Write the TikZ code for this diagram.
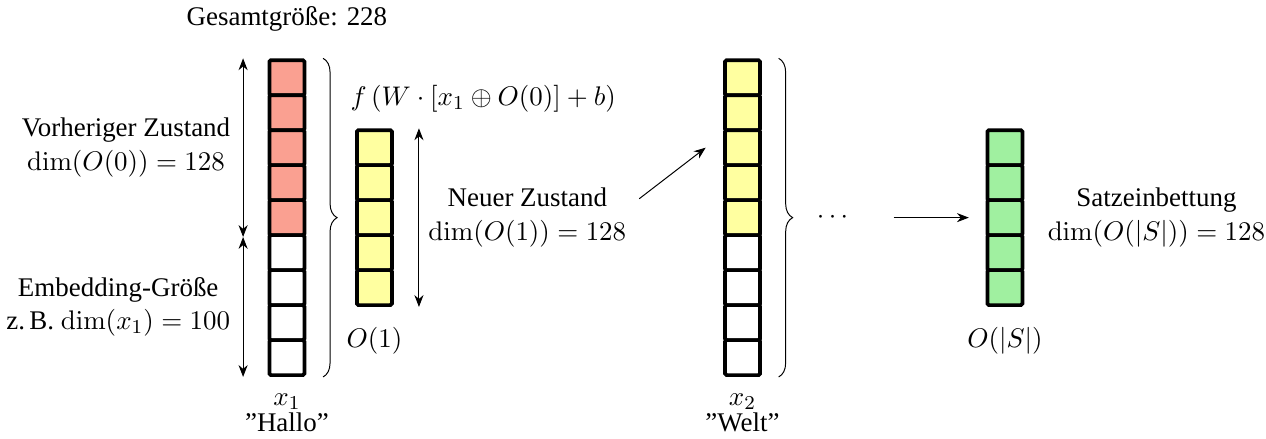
\documentclass[tikz,border=0pt,11pt]{standalone}
\usepackage{amsmath}
\usepackage[no-math]{fontspec}
\setmainfont{Liberation Serif}
\usetikzlibrary{positioning,decorations.pathreplacing,arrows.meta}

\definecolor{prevred}{RGB}{250,160,145}
\definecolor{stateyellow}{RGB}{255,255,160}
\definecolor{sentgreen}{RGB}{160,240,160}

\tikzset{
    cell/.style={draw,line width=1.5pt,rounded corners=0.6pt,minimum size=0.5cm,inner sep=0pt},
    dimarrow/.style={{Stealth[length=1.7mm,width=1.3mm]}-{Stealth[length=1.7mm,width=1.3mm]}},
    flowarrow/.style={-{Stealth[length=1.7mm,width=1.3mm]}},
    bracer/.style={decorate,decoration={brace,amplitude=0.2cm}}
}

\begin{document}
\begin{tikzpicture}
    \useasboundingbox (0,0) rectangle (18.09,6.27);

    % First input: previous state on top of the embedding
    \foreach \i in {1,...,5}
        \node[cell,fill=prevred] (xa\i) at (4.1,5.66-0.5*\i) {};
    \foreach \i in {6,...,9}
        \node[cell,fill=white] (xa\i) at (4.1,5.66-0.5*\i) {};
    \node[above=0.25cm of xa1] (total) {Gesamtgröße: 228};
    \node[below=0.1cm of xa9,align=center] (xalbl) {$x_1$\\[-0.1cm]''Hallo''};

    % Size arrows
    \coordinate[left=0.35cm of xa1.north west] (prevtop);
    \coordinate[left=0.35cm of xa5.south west] (prevbot);
    \coordinate[left=0.35cm of xa9.south west] (embbot);
    \draw[dimarrow] (prevtop) -- (prevbot)
        node[midway,left=0.05cm,align=center] (prevlbl) {Vorheriger Zustand\\$\dim(O(0)) = 128$};
    \draw[dimarrow] (prevbot) -- (embbot)
        node[midway,left=0.05cm,align=center] (emblbl) {Embedding-Größe\\z.\,B. $\dim(x_1) = 100$};
    \draw[bracer] ([xshift=0.24cm]xa1.north east) -- ([xshift=0.24cm]xa9.south east);

    % New state
    \foreach \i in {1,...,5}
        \node[cell,fill=stateyellow] (oa\i) at (5.35,4.66-0.5*\i) {};
    \node[anchor=south west] (update) at ([xshift=-0.2cm,yshift=0.1cm]oa1.north west)
        {$f\left(W \cdot [x_1 \oplus O(0)] + b\right)$};
    \node[below=0.15cm of oa5] (oalbl) {$O(1)$};
    \coordinate[right=0.36cm of oa1.north east] (newtop);
    \coordinate[right=0.36cm of oa5.south east] (newbot);
    \draw[dimarrow] (newtop) -- (newbot)
        node[midway,right=0cm,align=center] (newlbl) {Neuer Zustand\\$\dim(O(1)) = 128$};

    % Second input
    \foreach \i in {1,...,5}
        \node[cell,fill=stateyellow] (xb\i) at (10.61,5.66-0.5*\i) {};
    \foreach \i in {6,...,9}
        \node[cell,fill=white] (xb\i) at (10.61,5.66-0.5*\i) {};
    \node[below=0.1cm of xb9,align=center] (xblbl) {$x_2$\\[-0.1cm]''Welt''};
    \draw[bracer] ([xshift=0.24cm]xb1.north east) -- ([xshift=0.24cm]xb9.south east);
    \draw[flowarrow] ([shift={(0.05,0.27)}]newlbl.east) -- ([xshift=-0.25cm]xb3.west);

    % Sentence embedding
    \node[right=0.65cm of xb5.east] (dots) {$\cdots$};
    \foreach \i in {1,...,5}
        \node[cell,fill=sentgreen] (os\i) at (14.36,4.66-0.5*\i) {};
    \draw[flowarrow] ([xshift=0.45cm]dots.east) -- ([xshift=-0.24cm]os3.west);
    \node[below=0.15cm of os5] (oslbl) {$O(|S|)$};
    \node[right=0.2cm of os3.east,align=center] (sentlbl) {Satzeinbettung\\$\dim(O(|S|)) = 128$};
\end{tikzpicture}
\end{document}
